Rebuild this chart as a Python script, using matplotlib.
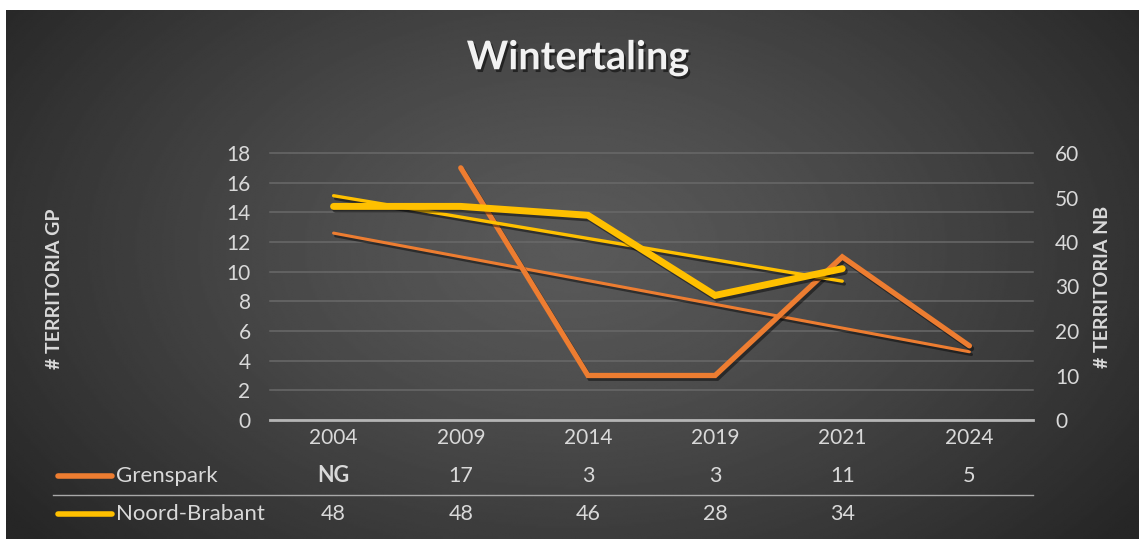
import numpy as np
import matplotlib
matplotlib.use('Agg')
import matplotlib.pyplot as plt
import matplotlib.patheffects as pe
import matplotlib.transforms as mtransforms
from matplotlib.lines import Line2D

# ---- data ----
years = ['2004', '2009', '2014', '2019', '2021', '2024']
grenspark = [np.nan, 17, 3, 3, 11, 5]
grenspark_table = ['NG', '17', '3', '3', '11', '5']
noord_brabant = [48, 48, 46, 28, 34, np.nan]
noord_brabant_table = ['48', '48', '46', '28', '34', '']
left_ticks = list(range(0, 19, 2))
right_ticks = list(range(0, 61, 10))
title = 'Wintertaling'
series_names = ['Grenspark', 'Noord-Brabant']
ylabel_left = '# TERRITORIA GP'
ylabel_right = '# TERRITORIA NB'

ORANGE = '#ED7D31'
YELLOW = '#FFC000'
TXT = '#d9d9d9'

plt.rcParams['font.family'] = ['Lato', 'DejaVu Sans']

W, H = 1139, 539
fig = plt.figure(figsize=(W / 100, H / 100), dpi=100)
fig.patch.set_facecolor('white')

# background radial gradient
bg = fig.add_axes([6 / W, 0, 1 - 6 / W, 1 - 10 / H])
bg.axis('off')
ny, nx = 300, 600
yy, xx = np.mgrid[0:1:ny * 1j, 0:1:nx * 1j]
r = np.sqrt(((xx - 0.5) / 0.62) ** 2 + ((yy - 0.55) / 0.85) ** 2)
val = 0.35 - 0.20 * np.clip(r, 0, 1) ** 1.3
bg.imshow(val, cmap='gray', vmin=0, vmax=1, extent=[0, 1, 0, 1],
          aspect='auto', origin='lower', interpolation='bilinear')
bg.set_xlim(0, 1); bg.set_ylim(0, 1)

# main axes
ax = fig.add_axes([270 / W, 1 - 420 / H, (1033 - 270) / W, (420 - 153) / H])
ax.patch.set_alpha(0)
x = np.arange(len(years))
ax.set_xlim(-0.5, len(years) - 0.5)
ax.set_ylim(0, 18)
ax.set_yticks(left_ticks)
ax.set_xticks(x)
ax.set_xticklabels(years)
ax.yaxis.grid(True, color='#696969', linewidth=1.1)
for gl in ax.get_ygridlines():
    gl.set_clip_on(False)
ax.set_axisbelow(True)
for s in ['top', 'right', 'left']:
    ax.spines[s].set_visible(False)
ax.spines['bottom'].set_color('#b5b5b5')
ax.spines['bottom'].set_linewidth(2.0)
ax.tick_params(axis='y', length=0, pad=14, labelsize=15, labelcolor=TXT)
ax.tick_params(axis='x', length=0, pad=6, labelsize=15, labelcolor=TXT)

ax2 = ax.twinx()
ax2.set_ylim(0, 60)
ax2.set_yticks(right_ticks)
for s in ['top', 'right', 'left', 'bottom']:
    ax2.spines[s].set_visible(False)
ax2.tick_params(axis='y', length=0, pad=16, labelsize=15, labelcolor=TXT)

shadow = [pe.SimpleLineShadow(offset=(1.5, -2), shadow_color='black', alpha=0.45),
          pe.Normal()]

# trendlines (linear fit on available points)
g = np.array(grenspark, dtype=float)
m = ~np.isnan(g)
cg = np.polyfit(x[m], g[m], 1)
ax.plot(x, np.polyval(cg, x), color=ORANGE, lw=2.2, solid_capstyle='round',
        path_effects=shadow, zorder=3)

nb = np.array(noord_brabant, dtype=float)
mb = ~np.isnan(nb)
cb = np.polyfit(x[mb], nb[mb], 1)
ax2.plot(x[mb], np.polyval(cb, x[mb]), color=YELLOW, lw=2.4, solid_capstyle='round',
         path_effects=shadow, zorder=3)

# main series
ax.plot(x, g, color=ORANGE, lw=3.8, solid_capstyle='round', solid_joinstyle='miter',
        path_effects=shadow, zorder=4)
ax2.plot(x, nb, color=YELLOW, lw=5.0, solid_capstyle='round', solid_joinstyle='miter',
         path_effects=shadow, zorder=4)

# title
fig.text(578 / W, 1 - 58 / H, title, ha='center', va='center', fontsize=28.5,
         fontweight='bold', color='#f2f2f2',
         path_effects=[pe.withSimplePatchShadow(offset=(1.5, -2), shadow_rgbFace='black', alpha=0.5)])

# axis titles
fig.text(55 / W, 1 - 289 / H, ylabel_left, rotation=90, ha='center', va='center',
         fontsize=14, fontweight='bold', color=TXT)
fig.text(1103 / W, 1 - 287 / H, ylabel_right, rotation=90, ha='center', va='center',
         fontsize=14, fontweight='bold', color=TXT)

# data table
trans = mtransforms.blended_transform_factory(ax.transData, fig.transFigure)
row_y = [1 - 476 / H, 1 - 514 / H]
for i in range(len(years)):
    ax.text(x[i], row_y[0], grenspark_table[i], transform=trans, ha='center', va='center',
            fontsize=15.5, color=TXT, fontweight='bold' if grenspark_table[i] == 'NG' else 'normal',
            clip_on=False)
    ax.text(x[i], row_y[1], noord_brabant_table[i], transform=trans, ha='center', va='center',
            fontsize=15.5, color=TXT, clip_on=False)

fig.add_artist(Line2D([53 / W, 1033 / W], [1 - 495 / H] * 2, transform=fig.transFigure,
                      color='#a8a8a8', lw=1.0))
for name, col, yv in zip(series_names, [ORANGE, YELLOW], row_y):
    fig.add_artist(Line2D([58 / W, 112 / W], [yv, yv], transform=fig.transFigure,
                          color=col, lw=4.0, solid_capstyle='round'))
    fig.text(116 / W, yv, name, ha='left', va='center', fontsize=16, color=TXT)

fig.savefig('out.png', dpi=100, facecolor=fig.get_facecolor())
